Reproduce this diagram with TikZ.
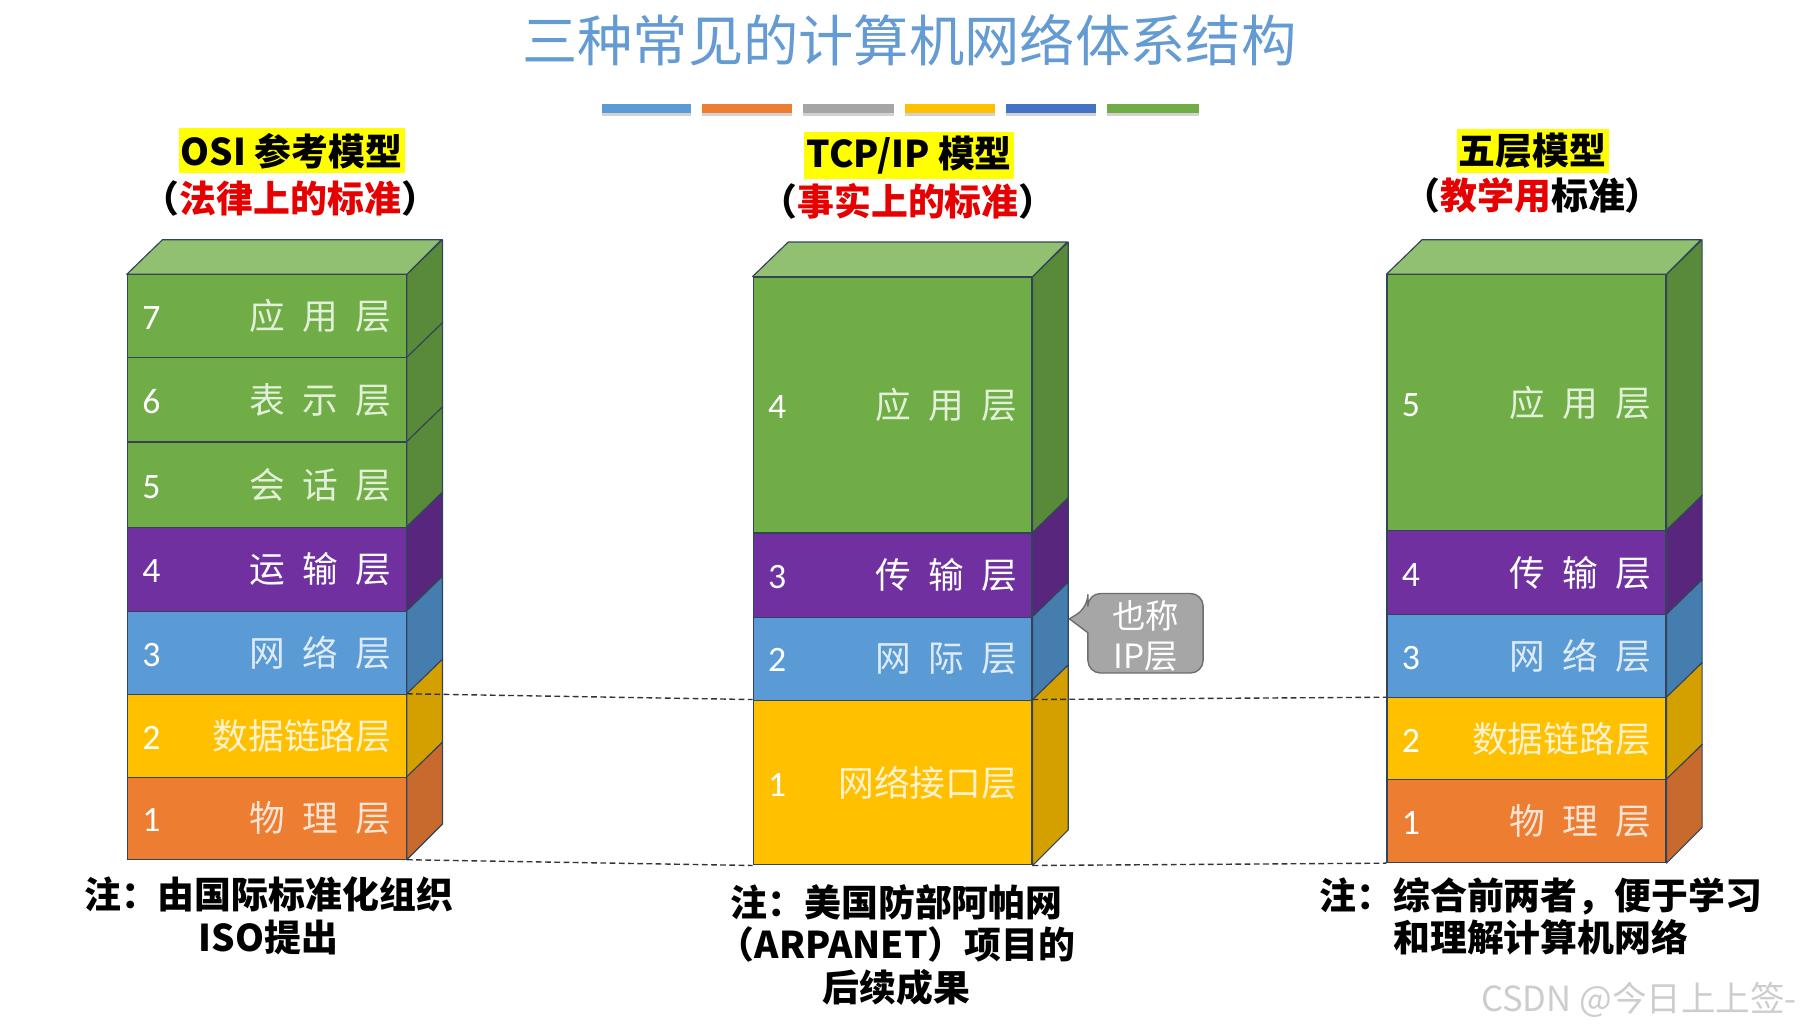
\documentclass[tikz,border=0pt]{standalone}
\usepackage{fontspec}
\setmainfont{Noto Sans CJK SC}
\newfontfamily\numfont{Carlito}
\usetikzlibrary{shadows}
\definecolor{edgec}{RGB}{50,68,90}
\definecolor{grF}{RGB}{112,173,71}
\definecolor{grS}{RGB}{88,138,58}
\definecolor{grT}{RGB}{145,192,112}
\definecolor{grX}{RGB}{226,240,217}
\definecolor{puF}{RGB}{112,48,160}
\definecolor{puS}{RGB}{88,38,125}
\definecolor{puX}{RGB}{255,255,255}
\definecolor{blF}{RGB}{91,155,213}
\definecolor{blS}{RGB}{70,125,175}
\definecolor{blX}{RGB}{222,235,247}
\definecolor{yeF}{RGB}{255,192,0}
\definecolor{yeS}{RGB}{212,160,0}
\definecolor{yeX}{RGB}{255,242,204}
\definecolor{orF}{RGB}{237,125,49}
\definecolor{orS}{RGB}{200,105,45}
\definecolor{orX}{RGB}{251,229,214}
\definecolor{titlec}{RGB}{100,155,210}
\definecolor{barA}{RGB}{91,155,213}
\definecolor{barB}{RGB}{237,125,49}
\definecolor{barC}{RGB}{165,165,165}
\definecolor{barD}{RGB}{255,192,0}
\definecolor{barE}{RGB}{68,114,196}
\definecolor{barF}{RGB}{112,173,71}
\definecolor{hly}{RGB}{255,255,0}
\definecolor{redc}{RGB}{230,0,0}
\definecolor{callF}{RGB}{166,166,166}
\definecolor{callD}{RGB}{110,110,110}
\definecolor{wmark}{RGB}{205,205,205}
\newcommand\gp{\hspace{15pt}}
\tikzset{
  layerbox/.style={draw=edgec, line width=1pt, inner xsep=0pt, inner ysep=0pt,
    minimum width=242pt, text width=216pt, anchor=north west, align=left,
    font=\fontsize{31}{32}\selectfont},
  edgeline/.style={draw=edgec, line width=1pt, line join=round},
  dashline/.style={draw=black!80, line width=1.2pt, dash pattern=on 5pt off 3pt},
  bar/.style={drop shadow={opacity=0.35, shadow xshift=0pt, shadow yshift=-3pt}},
  headA/.style={fill=hly, inner xsep=2pt, inner ysep=4pt, font=\fontsize{32}{34}\selectfont\bfseries},
  headB/.style={font=\fontsize{32}{34}\selectfont\bfseries, inner sep=0pt},
  note/.style={align=center, font=\fontsize{32}{37}\selectfont\bfseries, inner sep=0pt},
}
% name, x, ytop, ybot, front, side, textcolor, number, label
\newcommand\mklayer[9]{%
  \node[layerbox, fill=#5, minimum height={(#4-#3)*1pt}] (#1) at (#2,#3)
    {{\color{white}\numfont #8}\hfill{\color{#7}#9}};
  \filldraw[fill=#6, edgeline] (#1.north east) -- ++(31,-30) -- ++(0,{#4-#3}) -- (#1.south east) -- cycle;
}
\newcommand\mktop[1]{%
  \filldraw[fill=grT, edgeline] (#1.north west) -- ++(31,-30) -- ++(242,0) -- (#1.north east) -- cycle;
}
\begin{document}
\begin{tikzpicture}[x=1pt,y=-1pt]
\useasboundingbox[fill=white] (0,0) rectangle (1568,897);

% title
\node[text=titlec, font=\fontsize{48}{49}\selectfont, inner sep=0pt] (title) at (789,35) {三种常见的计算机网络体系结构};

% colour bars
\fill[barA, bar] (522,90) rectangle (600,98);
\fill[barB, bar] (609,90) rectangle (687,98);
\fill[barC, bar] (697,90) rectangle (776,98);
\fill[barD, bar] (785,90) rectangle (863,98);
\fill[barE, bar] (873,90) rectangle (951,98);
\fill[barF, bar] (961,90) rectangle (1040,98);

% headings
\node[headA] (hosi) at (253,131) {OSI 参考模型};
\node[headB] (hosi2) at (252,172) {（\textcolor{redc}{法律上的标准}）};
\node[headA] (htcp) at (789,135) {TCP/IP 模型};
\node[headB] (htcp2) at (788,175) {（\textcolor{redc}{事实上的标准}）};
\node[headA] (hfive) at (1330,131) {五层模型};
\node[headB] (hfive2) at (1330,170) {（\textcolor{redc}{教学用}标准）};

% OSI stack
\mklayer{osi7}{110}{238}{310}{grF}{grS}{grX}{7}{应\gp 用\gp 层}
\mklayer{osi6}{110}{310}{383}{grF}{grS}{grX}{6}{表\gp 示\gp 层}
\mklayer{osi5}{110}{383}{457}{grF}{grS}{grX}{5}{会\gp 话\gp 层}
\mklayer{osi4}{110}{457}{530}{puF}{puS}{puX}{4}{运\gp 输\gp 层}
\mklayer{osi3}{110}{530}{602}{blF}{blS}{blX}{3}{网\gp 络\gp 层}
\mklayer{osi2}{110}{602}{674}{yeF}{yeS}{yeX}{2}{数据链路层}
\mklayer{osi1}{110}{674}{745}{orF}{orS}{orX}{1}{物\gp 理\gp 层}
\mktop{osi7}

% TCP/IP stack
\mklayer{tcp4}{653}{240}{462}{grF}{grS}{grX}{4}{应\gp 用\gp 层}
\mklayer{tcp3}{653}{462}{535}{puF}{puS}{puX}{3}{传\gp 输\gp 层}
\mklayer{tcp2}{653}{535}{607}{blF}{blS}{blX}{2}{网\gp 际\gp 层}
\mklayer{tcp1}{653}{607}{750}{yeF}{yeS}{yeX}{1}{网络接口层}
\mktop{tcp4}

% five-layer stack
\mklayer{five5}{1203}{238}{460}{grF}{grS}{grX}{5}{应\gp 用\gp 层}
\mklayer{five4}{1203}{460}{533}{puF}{puS}{puX}{4}{传\gp 输\gp 层}
\mklayer{five3}{1203}{533}{605}{blF}{blS}{blX}{3}{网\gp 络\gp 层}
\mklayer{five2}{1203}{605}{676}{yeF}{yeS}{yeX}{2}{数据链路层}
\mklayer{five1}{1203}{676}{748}{orF}{orS}{orX}{1}{物\gp 理\gp 层}
\mktop{five5}

% dashed correspondences
\draw[dashline] (osi2.north east) -- (tcp1.north west);
\draw[dashline] (osi1.south east) -- (tcp1.south west);
\draw[dashline] (tcp1.north east) -- (five2.north west);
\draw[dashline] (tcp1.south east) -- (five1.south west);

% callout
\filldraw[fill=callF, draw=callD, line width=1.2pt, line join=round]
  (944,549) [rounded corners=11pt] -- (944,584) -- (1044,584) -- (1044,515) -- (944,515) -- (944,527)
  [sharp corners] -- (928,537) -- cycle;
\node[text=white, align=center, font=\fontsize{29}{35}\selectfont, inner sep=0pt] (callout) at (994,552) {也称\\IP层};

% notes
\node[note] (nosi) at (233,795) {注：由国际标准化组织\\ISO提出};
\node[note] (ntcp) at (778,820) {注：美国防部阿帕网\\（ARPANET）项目的\\后续成果};
\node[note] (nfive) at (1337,795) {注：综合前两者，便于学习\\和理解计算机网络};

% watermark
\node[anchor=west, text=wmark, font=\fontsize{30}{32}\selectfont, inner sep=0pt] (wm) at (1285,868) {CSDN @今日上上签-};
\end{tikzpicture}
\end{document}
